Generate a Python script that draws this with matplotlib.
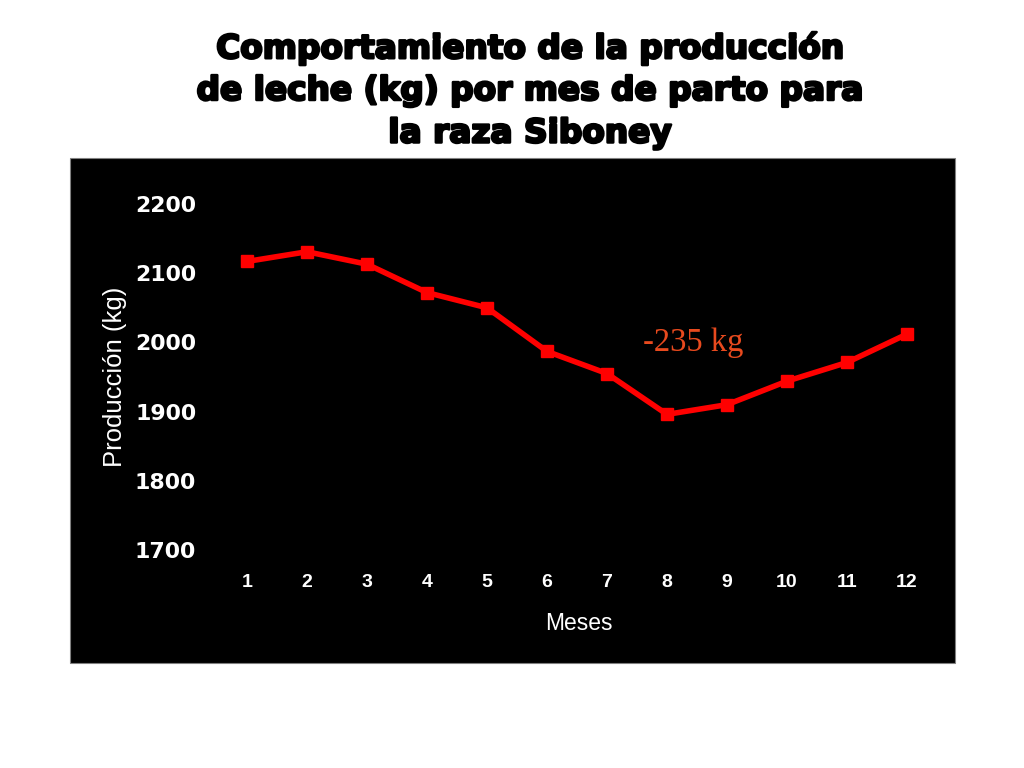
import matplotlib
matplotlib.use("Agg")
import matplotlib.pyplot as plt
from matplotlib.patches import Rectangle
import matplotlib.patheffects as pe

meses = [1, 2, 3, 4, 5, 6, 7, 8, 9, 10, 11, 12]
produccion = [2117, 2131, 2113, 2072, 2050, 1987, 1955, 1896, 1910, 1944, 1971, 2012]
y_ticks = [1700, 1800, 1900, 2000, 2100, 2200]
title_lines = ["Comportamiento de la producción",
               "de leche (kg) por mes de parto para",
               "la raza Siboney"]
annotation = "-235 kg"

fig = plt.figure(figsize=(10.24, 7.68), dpi=100)
fig.patch.set_facecolor("white")

# black panel
panel = Rectangle((70 / 1024, 1 - 663 / 768), 885 / 1024, 505 / 768,
                  transform=fig.transFigure, facecolor="black",
                  edgecolor="#808080", linewidth=0.8, zorder=-5)
fig.patches.append(panel)

# title
for i, line in enumerate(title_lines):
    y = 48 + i * 42.5
    fig.text(530 / 1024, 1 - y / 768, line, ha="center", va="center",
             fontsize=23.6, fontweight="bold", family="DejaVu Sans", color="black",
             path_effects=[pe.withStroke(linewidth=1.8, foreground="black")])

ax = fig.add_axes([217 / 1024, 1 - 550 / 768, 720 / 1024, 346 / 768], zorder=2)
ax.patch.set_alpha(0)
for s in ax.spines.values():
    s.set_visible(False)

ax.plot(meses, produccion, color="#FF0000", linewidth=4, marker="s",
        markersize=8.5, markeredgecolor="#FF0000", markerfacecolor="#FF0000",
        solid_joinstyle="miter", clip_on=False)

ax.set_xlim(0.5, 12.5)
ax.set_ylim(1700, 2200)
ax.set_yticks(y_ticks)
ax.set_yticklabels([str(v) for v in y_ticks], color="white", fontsize=15.8,
                   fontweight="bold", family="DejaVu Sans")
ax.set_xticks(meses)
ax.set_xticklabels([str(m) for m in meses], color="white", fontsize=14,
                   fontweight="bold", family="Liberation Sans")
ax.tick_params(axis="y", length=0, pad=15)
ax.tick_params(axis="x", length=0, pad=17)

ax.set_xlabel("Meses", color="white", fontsize=16.5, family="Liberation Sans")
ax.set_ylabel("Producción (kg)", color="white", fontsize=18.5, family="Liberation Sans")
ax.yaxis.set_label_coords((127 - 217) / 720, (550 - 377) / 346)
ax.xaxis.set_label_coords((579 - 217) / 720, -(612 - 550) / 346)

ax.text(7.6, 1987, annotation, color="#E84A1E", fontsize=23.5,
        family="Liberation Serif", ha="left", va="baseline")

fig.savefig("out.png", dpi=100, facecolor="white")
